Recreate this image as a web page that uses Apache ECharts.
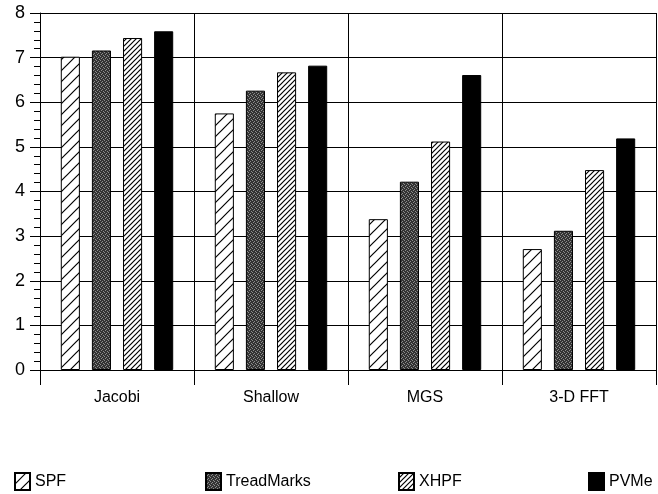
<!DOCTYPE html>
<html>
<head>
<meta charset="utf-8">
<script src="https://cdn.jsdelivr.net/npm/echarts@6/dist/echarts.min.js"></script>
<style>
  html, body { margin: 0; padding: 0; background: #fff; }
  #chart { width: 658px; height: 494px; }
</style>
</head>
<body>
<div id="chart"></div>
<script>
const categories = ['Jacobi', 'Shallow', 'MGS', '3-D FFT'];
const seriesNames = ['SPF', 'TreadMarks', 'XHPF', 'PVMe'];
const spf = [7.02, 5.75, 3.38, 2.71];
const treadMarks = [7.16, 6.26, 4.22, 3.12];
const xhpf = [7.44, 6.67, 5.12, 4.48];
const pvme = [7.59, 6.82, 6.61, 5.19];
const yTicks = [0, 1, 2, 3, 4, 5, 6, 7, 8];

const FONT = '"Liberation Sans", Arial, sans-serif';

// hatch tile: diagonal "/" lines
function hatch(step, lw) {
  const c = document.createElement('canvas');
  c.width = step; c.height = step;
  const g = c.getContext('2d');
  g.fillStyle = '#fff';
  g.fillRect(0, 0, step, step);
  g.strokeStyle = '#000';
  g.lineWidth = lw;
  g.beginPath();
  g.moveTo(-1, step + 1); g.lineTo(step + 1, -1);
  g.moveTo(-1, 1); g.lineTo(1, -1);
  g.moveTo(step - 1, step + 1); g.lineTo(step + 1, step - 1);
  g.stroke();
  return c;
}

// stipple tile: dark grey dotted
function stipple() {
  const c = document.createElement('canvas');
  c.width = 4; c.height = 4;
  const g = c.getContext('2d');
  g.fillStyle = '#333';
  g.fillRect(0, 0, 4, 4);
  g.fillStyle = '#8c8c8c';
  [[0, 0], [2, 1], [1, 2], [3, 3]].forEach(p => g.fillRect(p[0], p[1], 1, 1));
  return c;
}

const fills = [
  { image: hatch(11, 1.2), repeat: 'repeat' },
  { image: stipple(), repeat: 'repeat' },
  { image: hatch(5, 1.2), repeat: 'repeat' },
  '#000'
];
const values = [spf, treadMarks, xhpf, pvme];
const legendLeft = [12, 203, 396, 586];

const chart = echarts.init(document.getElementById('chart'));

const option = {
  animation: false,
  backgroundColor: '#fff',
  legend: seriesNames.map((n, i) => ({
    data: [n],
    left: legendLeft[i],
    top: 467,
    icon: 'rect',
    itemWidth: 15,
    itemHeight: 17,
    itemGap: 6,
    padding: [5, 2, 5, 2],
    textStyle: { fontFamily: FONT, fontSize: 16, color: '#000' }
  })),
  grid: { left: 40, right: 2, top: 13, bottom: 124 },
  xAxis: {
    type: 'category',
    data: categories,
    axisLine: { lineStyle: { color: '#000', width: 1 } },
    axisTick: { show: true, length: 15, lineStyle: { color: '#000' } },
    axisLabel: { color: '#000', fontSize: 16, fontFamily: FONT, margin: 20 },
    splitLine: { show: true, lineStyle: { color: '#000', width: 1 } }
  },
  yAxis: {
    type: 'value',
    min: 0,
    max: 8,
    interval: 1,
    axisLine: { show: true, lineStyle: { color: '#000' } },
    axisTick: { show: true, length: 10, lineStyle: { color: '#000' } },
    minorTick: { show: true, splitNumber: 5, length: 6, lineStyle: { color: '#000' } },
    axisLabel: {
      color: '#000', fontSize: 18, fontFamily: FONT, margin: 15,
      formatter: v => (yTicks.indexOf(v) >= 0 ? String(v) : '')
    },
    splitLine: { show: true, lineStyle: { color: '#000', width: 1 } }
  },
  series: seriesNames.map((n, i) => ({
    name: n,
    type: 'bar',
    data: values[i],
    barGap: '63%',
    barCategoryGap: '27%',
    itemStyle: { color: fills[i], borderColor: '#000', borderWidth: 1 }
  }))
};

chart.setOption(option);
</script>
</body>
</html>
